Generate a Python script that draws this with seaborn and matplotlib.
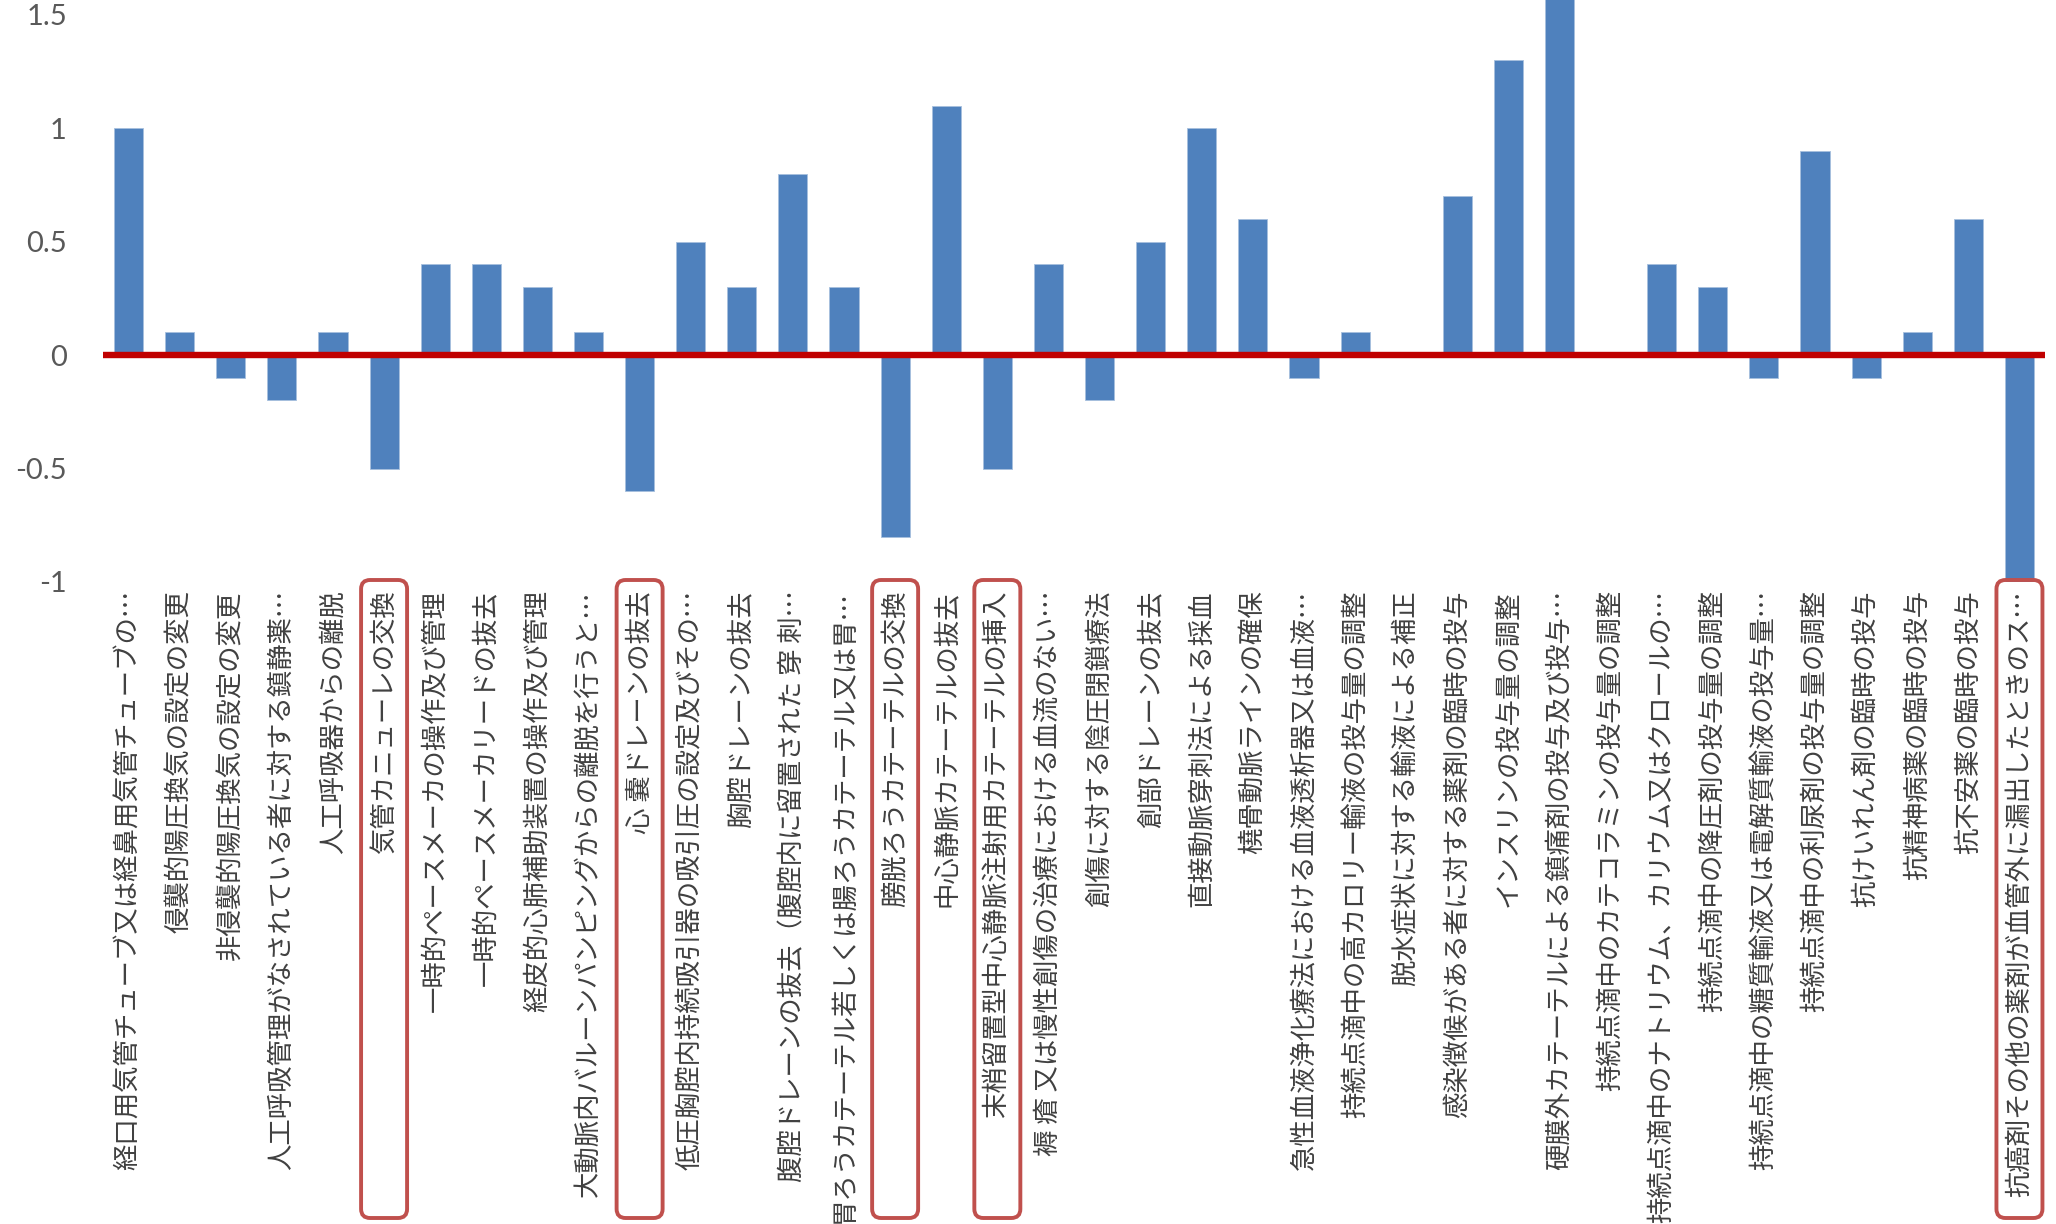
import matplotlib
matplotlib.use("Agg")
import matplotlib.pyplot as plt
from matplotlib.patches import FancyBboxPatch
from matplotlib.transforms import IdentityTransform
import seaborn as sns
import pandas as pd

labels = [
    "経口用気管チューブ又は経鼻用気管チューブの…",
    "侵襲的陽圧換気の設定の変更",
    "非侵襲的陽圧換気の設定の変更",
    "人工呼吸管理がなされている者に対する鎮静薬…",
    "人工呼吸器からの離脱",
    "気管カニューレの交換",
    "一時的ペースメーカの操作及び管理",
    "一時的ペースメーカリードの抜去",
    "経皮的心肺補助装置の操作及び管理",
    "大動脈内バルーンパンピングからの離脱を行うと…",
    "心 嚢ドレーンの抜去",
    "低圧胸腔内持続吸引器の吸引圧の設定及びその…",
    "胸腔ドレーンの抜去",
    "腹腔ドレーンの抜去（腹腔内に留置された 穿 刺…",
    "胃ろうカテーテル若しくは腸ろうカテーテル又は胃…",
    "膀胱ろうカテーテルの交換",
    "中心静脈カテーテルの抜去",
    "末梢留置型中心静脈注射用カテーテルの挿入",
    "褥 瘡 又は慢性創傷の治療における血流のない…",
    "創傷に対する陰圧閉鎖療法",
    "創部ドレーンの抜去",
    "直接動脈穿刺法による採血",
    "橈骨動脈ラインの確保",
    "急性血液浄化療法における血液透析器又は血液…",
    "持続点滴中の高カロリー輸液の投与量の調整",
    "脱水症状に対する輸液による補正",
    "感染徴候がある者に対する薬剤の臨時の投与",
    "インスリンの投与量の調整",
    "硬膜外カテーテルによる鎮痛剤の投与及び投与…",
    "持続点滴中のカテコラミンの投与量の調整",
    "持続点滴中のナトリウム、カリウム又はクロールの…",
    "持続点滴中の降圧剤の投与量の調整",
    "持続点滴中の糖質輸液又は電解質輸液の投与量…",
    "持続点滴中の利尿剤の投与量の調整",
    "抗けいれん剤の臨時の投与",
    "抗精神病薬の臨時の投与",
    "抗不安薬の臨時の投与",
    "抗癌剤その他の薬剤が血管外に漏出したときのス…",
]

values = [
    1.0, 0.1, -0.1, -0.2, 0.1, -0.5, 0.4, 0.4, 0.3, 0.1,
    -0.6, 0.5, 0.3, 0.8, 0.3, -0.8, 1.1, -0.5, 0.4, -0.2,
    0.5, 1.0, 0.6, -0.1, 0.1, 0.0, 0.7, 1.3, 1.6, 0.0,
    0.4, 0.3, -0.1, 0.9, -0.1, 0.1, 0.6, -1.0,
]

highlighted = [
    "気管カニューレの交換",
    "心 嚢ドレーンの抜去",
    "膀胱ろうカテーテルの交換",
    "末梢留置型中心静脈注射用カテーテルの挿入",
    "抗癌剤その他の薬剤が血管外に漏出したときのス…",
]

yticks = [-1, -0.5, 0, 0.5, 1, 1.5]
ytick_labels = ["-1", "-0.5", "0", "0.5", "1", "1.5"]

df = pd.DataFrame({"label": labels, "value": values})

sns.set_theme(style="white")
plt.rcParams["font.family"] = ["Noto Sans CJK JP", "DejaVu Sans"]

W, H = 2056, 1224
fig = plt.figure(figsize=(W / 100, H / 100), dpi=100)
ax = fig.add_axes([103 / W, 1 - 582 / H, (2045 - 103) / W, 582 / H])

sns.barplot(data=df, x="label", y="value", order=labels, color="#4F81BD",
            saturation=1, width=0.57, ax=ax, edgecolor="#A7C0DE", linewidth=0.6)

ax.axhline(0, color="#C00000", linewidth=4.6, zorder=5)

ax.set_xlim(-0.5, len(labels) - 0.5)
ax.set_ylim(-1, 1.565)
ax.set_yticks(yticks)
ax.set_yticklabels(ytick_labels, family=["Lato", "DejaVu Sans"], fontsize=21, color="#595959")
ax.set_xlabel("")
ax.set_ylabel("")
ax.tick_params(axis="y", length=0, pad=26)
ax.tick_params(axis="x", length=0, pad=6)
ax.set_xticks(range(len(labels)))
ax.set_xticklabels(labels, rotation=90, fontsize=19, color="#404040",
                   family=["Noto Sans CJK JP", "DejaVu Sans"], va="top", ha="center")
for s in ax.spines.values():
    s.set_visible(False)
ax.grid(False)

# highlight boxes around selected labels
fig.canvas.draw()
for name in highlighted:
    i = labels.index(name)
    xc, _ = ax.transData.transform((i, 0))
    bw = 46
    top = H - 580
    bottom = H - 1218
    box = FancyBboxPatch((xc - bw / 2, bottom), bw, top - bottom,
                         boxstyle="round,pad=0,rounding_size=9",
                         transform=IdentityTransform(), fill=False,
                         edgecolor="#C0504D", linewidth=2.8, zorder=10,
                         clip_on=False)
    fig.patches.append(box)

fig.savefig("out.png", dpi=100)
